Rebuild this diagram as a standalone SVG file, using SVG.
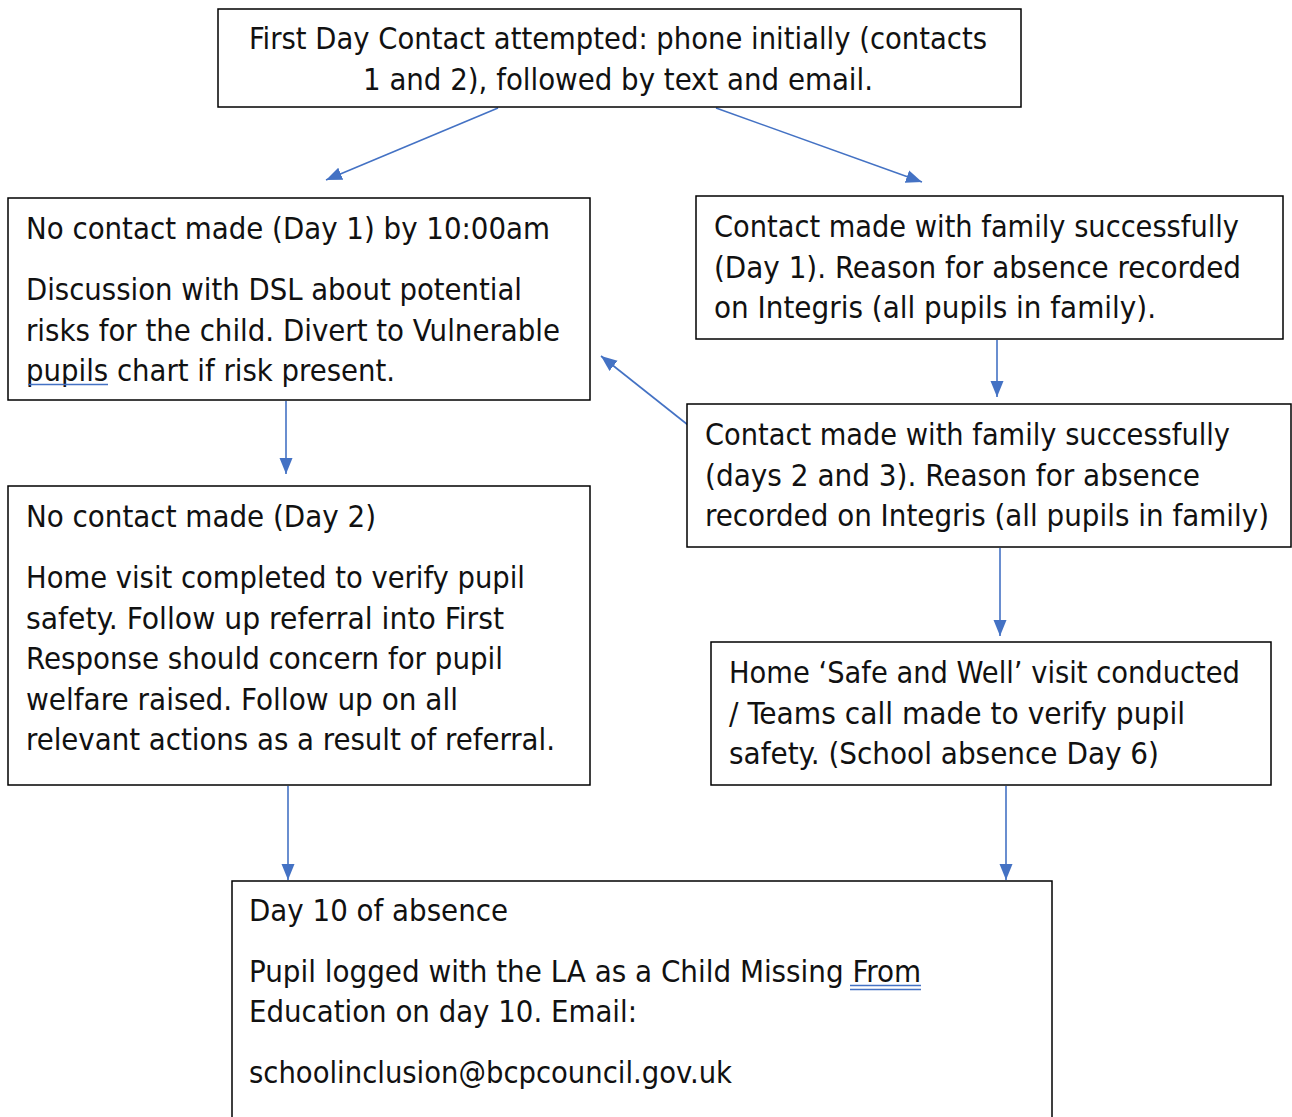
<svg xmlns="http://www.w3.org/2000/svg" width="1292" height="1117" viewBox="0 0 1292 1117">
  <defs>
    <style>
      .box { fill: #ffffff; stroke: #000000; stroke-width: 1.5; }
      .t { font-family: "DejaVu Sans Condensed", "DejaVu Sans", Tahoma, sans-serif; font-stretch: condensed; font-size: 31px; fill: #111111; }
      .conn { stroke: #4472c4; stroke-width: 1.6; fill: none; marker-end: url(#arrow); }
      .ul { stroke: #4472c4; stroke-width: 1.5; fill: none; }
    </style>
    <marker id="arrow" markerUnits="userSpaceOnUse" markerWidth="17" markerHeight="16" viewBox="0 0 17 16" refX="16" refY="8" orient="auto">
      <path d="M0,1.5 L16,8 L0,14.5 Z" fill="#4472c4"/>
    </marker>
  </defs>
  <rect width="1292" height="1117" fill="#ffffff"/>

  <g id="connectors">
    <line class="conn" x1="498" y1="108" x2="326" y2="180"/>
    <line class="conn" x1="716" y1="108" x2="922" y2="182"/>
    <line class="conn" x1="997" y1="340" x2="997" y2="397"/>
    <line class="conn" x1="688" y1="425" x2="601" y2="356"/>
    <line class="conn" x1="286" y1="401" x2="286" y2="474"/>
    <line class="conn" x1="1000" y1="548" x2="1000" y2="636"/>
    <line class="conn" x1="288" y1="786" x2="288" y2="880"/>
    <line class="conn" x1="1006" y1="786" x2="1006" y2="880"/>
  </g>

  <g id="node-first-day">
    <rect class="box" x="218" y="9" width="803" height="98"/>
    <text class="t" x="249" y="49" textLength="738" lengthAdjust="spacingAndGlyphs">First Day Contact attempted: phone initially (contacts</text>
    <text class="t" x="363" y="89.5" textLength="510" lengthAdjust="spacingAndGlyphs">1 and 2), followed by text and email.</text>
  </g>

  <g id="node-no-contact-day1">
    <rect class="box" x="8" y="198" width="582" height="202"/>
    <text class="t" x="26" y="239" textLength="524" lengthAdjust="spacingAndGlyphs">No contact made (Day 1) by 10:00am</text>
    <text class="t" x="26" y="300" textLength="496" lengthAdjust="spacingAndGlyphs">Discussion with DSL about potential</text>
    <text class="t" x="26" y="340.5" textLength="534" lengthAdjust="spacingAndGlyphs">risks for the child. Divert to Vulnerable</text>
    <text class="t" x="26" y="381" textLength="369" lengthAdjust="spacingAndGlyphs">pupils chart if risk present.</text>
    <line class="ul" x1="28" y1="384.5" x2="108" y2="384.5"/>
  </g>

  <g id="node-contact-day1">
    <rect class="box" x="696" y="196" width="587" height="143"/>
    <text class="t" x="714" y="237" textLength="525" lengthAdjust="spacingAndGlyphs">Contact made with family successfully</text>
    <text class="t" x="714" y="277.5" textLength="527" lengthAdjust="spacingAndGlyphs">(Day 1). Reason for absence recorded</text>
    <text class="t" x="714" y="318" textLength="442" lengthAdjust="spacingAndGlyphs">on Integris (all pupils in family).</text>
  </g>

  <g id="node-contact-days23">
    <rect class="box" x="687" y="404" width="604" height="143"/>
    <text class="t" x="705" y="445" textLength="525" lengthAdjust="spacingAndGlyphs">Contact made with family successfully</text>
    <text class="t" x="705" y="485.5" textLength="495" lengthAdjust="spacingAndGlyphs">(days 2 and 3). Reason for absence</text>
    <text class="t" x="705" y="526" textLength="564" lengthAdjust="spacingAndGlyphs">recorded on Integris (all pupils in family)</text>
  </g>

  <g id="node-no-contact-day2">
    <rect class="box" x="8" y="486" width="582" height="299"/>
    <text class="t" x="26" y="527" textLength="350" lengthAdjust="spacingAndGlyphs">No contact made (Day 2)</text>
    <text class="t" x="26" y="588" textLength="499" lengthAdjust="spacingAndGlyphs">Home visit completed to verify pupil</text>
    <text class="t" x="26" y="628.5" textLength="478" lengthAdjust="spacingAndGlyphs">safety. Follow up referral into First</text>
    <text class="t" x="26" y="669" textLength="477" lengthAdjust="spacingAndGlyphs">Response should concern for pupil</text>
    <text class="t" x="26" y="709.5" textLength="432" lengthAdjust="spacingAndGlyphs">welfare raised. Follow up on all</text>
    <text class="t" x="26" y="750" textLength="529" lengthAdjust="spacingAndGlyphs">relevant actions as a result of referral.</text>
  </g>

  <g id="node-safe-and-well">
    <rect class="box" x="711" y="642" width="560" height="143"/>
    <text class="t" x="729" y="683" textLength="511" lengthAdjust="spacingAndGlyphs">Home ‘Safe and Well’ visit conducted</text>
    <text class="t" x="729" y="723.5" textLength="456" lengthAdjust="spacingAndGlyphs">/ Teams call made to verify pupil</text>
    <text class="t" x="729" y="764" textLength="430" lengthAdjust="spacingAndGlyphs">safety. (School absence Day 6)</text>
  </g>

  <g id="node-day10">
    <rect class="box" x="232" y="881" width="820" height="260"/>
    <text class="t" x="249" y="920.5" textLength="259" lengthAdjust="spacingAndGlyphs">Day 10 of absence</text>
    <text class="t" x="249" y="981.5" textLength="672" lengthAdjust="spacingAndGlyphs">Pupil logged with the LA as a Child Missing From</text>
    <text class="t" x="249" y="1022" textLength="388" lengthAdjust="spacingAndGlyphs">Education on day 10. Email:</text>
    <text class="t" x="249" y="1082.5" textLength="483" lengthAdjust="spacingAndGlyphs">schoolinclusion@bcpcouncil.gov.uk</text>
    <line class="ul" x1="850" y1="985.5" x2="921" y2="985.5" stroke-width="1.2"/>
    <line class="ul" x1="850" y1="989.5" x2="921" y2="989.5" stroke-width="1.2"/>
  </g>
</svg>
